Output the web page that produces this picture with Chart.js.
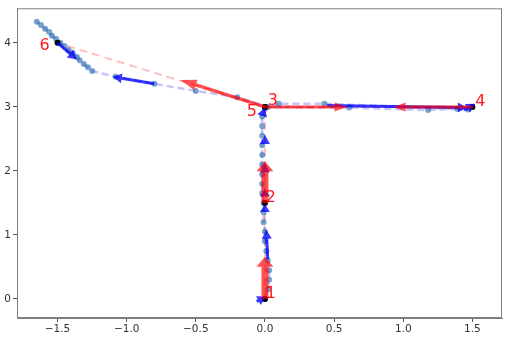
<!DOCTYPE html>
<html>
<head>
<meta charset="utf-8">
<script src="https://cdn.jsdelivr.net/npm/chart.js@4/dist/chart.umd.min.js"></script>
<style>
  html, body { margin: 0; padding: 0; background: #fff; }
  canvas { display: block; }
</style>
</head>
<body>
<canvas id="chart" width="509" height="337"></canvas>
<script>
// 航点 (waypoints)
const wpX = [0, 0, 0, 1.5, 0, -1.5];
const wpY = [0, 1.5, 3, 3, 3, 4];
const wpLabels = ['1', '2', '3', '4', '5', '6'];

// 实际轨迹 (light dashed path with dots)
const trajX = [0.00, 0.02, 0.03, 0.03, 0.02, 0.01, 0.00, 0.00, -0.01, -0.01, -0.01, -0.02, -0.02, -0.02, -0.02, -0.02, -0.02, -0.02, -0.02, -0.02, 0.00,
  0.10, 0.43, 1.47, 1.39, 1.18, 0.61, 0.02,
  -0.20, -0.50, -0.80, -1.08, -1.25,
  -1.28, -1.31, -1.34, -1.36, -1.39, -1.42, -1.45, -1.48, -1.51, -1.54, -1.56, -1.59, -1.62, -1.65];
const trajY = [0.00, 0.15, 0.30, 0.45, 0.60, 0.75, 0.90, 1.05, 1.20, 1.35, 1.50, 1.65, 1.80, 1.95, 2.10, 2.25, 2.40, 2.55, 2.70, 2.85, 2.97,
  3.05, 3.05, 2.96, 2.97, 2.95, 2.99, 3.00,
  3.15, 3.25, 3.36, 3.47, 3.56,
  3.62, 3.67, 3.73, 3.78, 3.84, 3.89, 3.95, 4.00, 4.06, 4.11, 4.17, 4.22, 4.28, 4.33];

// 估计位姿箭头 (blue quiver): start -> end
const blueX0 = [-0.06, 0.02, 0.00, 0.00, 0.00, 0.00, -0.02, 0.45, 1.44, -0.80, -1.50];
const blueY0 = [-0.04, 0.62, 1.36, 1.60, 1.98, 2.42, 2.86, 3.02, 2.95, 3.36, 4.00];
const blueX1 = [0.01, 0.01, 0.00, 0.00, 0.00, 0.00, 0.00, 1.46, 1.52, -1.10, -1.36];
const blueY1 = [0.04, 1.08, 1.48, 1.72, 2.12, 2.56, 2.99, 2.99, 3.05, 3.47, 3.74];

// 指令箭头 (red quiver): start -> end
const redX0 = [0, 0, 0, 1.5, 0];
const redY0 = [0, 1.5, 3, 3, 3];
const redX1 = [0, 0, 0.59, 0.93, -0.61];
const redY1 = [0.66, 2.15, 3, 3, 3.42];

const xTicks = [-1.5, -1.0, -0.5, 0.0, 0.5, 1.0, 1.5];
const yTicks = [0, 1, 2, 3, 4];
const xRange = [-1.793, 1.714];
const yRange = [-0.297, 4.54];

const FONT = 'DejaVu Sans';

// 箭头样式 (styles kept apart from data)
const redStyle = { color: 'rgba(255,0,0,0.68)', shaft: [7, 7, 3, 3, 3.5], headW: [17, 17, 9, 9, 11], headL: [10, 10, 12, 12, 16] };
const blueStyle = { color: 'rgba(0,0,255,0.78)', shaft: 3, headW: 10, headL: 9 };
const labelOffset = { dx: [6, 6, 8, 8, -13, -13], dy: [-5, -5, -6, -5, 5, 3] };

function drawArrow(ctx, x0, y0, x1, y1, color, sw, hw, hl) {
    const dx = x1 - x0, dy = y1 - y0;
    const len = Math.hypot(dx, dy);
    if (len === 0) return;
    const ux = dx / len, uy = dy / len;
    const nx = -uy, ny = ux;
    const L = Math.min(hl, len);
    const bx = x1 - ux * L, by = y1 - uy * L;
    ctx.beginPath();
    ctx.moveTo(x0 + nx * sw / 2, y0 + ny * sw / 2);
    ctx.lineTo(bx + nx * sw / 2, by + ny * sw / 2);
    ctx.lineTo(bx + nx * hw / 2, by + ny * hw / 2);
    ctx.lineTo(x1, y1);
    ctx.lineTo(bx - nx * hw / 2, by - ny * hw / 2);
    ctx.lineTo(bx - nx * sw / 2, by - ny * sw / 2);
    ctx.lineTo(x0 - nx * sw / 2, y0 - ny * sw / 2);
    ctx.closePath();
    ctx.fillStyle = color;
    ctx.fill();
}

const arrowPlugin = {
    id: 'arrows',
    afterDatasetDraw(chart, args) {
        if (args.index !== 2) return; // 在航点之上绘制
        const { ctx, scales: { x, y } } = chart;
        ctx.save();
        for (let i = 0; i < blueX0.length; i++) {
            drawArrow(ctx,
                x.getPixelForValue(blueX0[i]), y.getPixelForValue(blueY0[i]),
                x.getPixelForValue(blueX1[i]), y.getPixelForValue(blueY1[i]),
                blueStyle.color, blueStyle.shaft, blueStyle.headW, blueStyle.headL);
        }
        for (let i = 0; i < redX0.length; i++) {
            drawArrow(ctx,
                x.getPixelForValue(redX0[i]), y.getPixelForValue(redY0[i]),
                x.getPixelForValue(redX1[i]), y.getPixelForValue(redY1[i]),
                redStyle.color, redStyle.shaft[i], redStyle.headW[i], redStyle.headL[i]);
        }
        ctx.restore();
    },
    afterDatasetsDraw(chart) {
        const { ctx, chartArea: a, scales: { x, y } } = chart;
        ctx.save();
        // 航点编号
        ctx.font = '16px "' + FONT + '"';
        ctx.fillStyle = 'rgba(255,0,0,0.9)';
        ctx.textAlign = 'center';
        ctx.textBaseline = 'middle';
        wpLabels.forEach((t, i) => {
            ctx.fillText(t,
                x.getPixelForValue(wpX[i]) + labelOffset.dx[i],
                y.getPixelForValue(wpY[i]) + labelOffset.dy[i]);
        });
        // 边框
        ctx.strokeStyle = '#808080';
        ctx.lineWidth = 1;
        ctx.strokeRect(a.left + 0.5, a.top + 0.5, a.right - a.left - 1, a.bottom - a.top - 1);
        ctx.restore();
    }
};

const toPts = (xs, ys) => xs.map((v, i) => ({ x: v, y: ys[i] }));

new Chart(document.getElementById('chart'), {
    type: 'scatter',
    data: {
        datasets: [
            {
                // 航点连线
                data: toPts(wpX, wpY),
                showLine: true,
                borderColor: 'rgba(255,0,0,0.25)',
                borderWidth: 2,
                borderDash: [8, 5],
                pointRadius: 0,
                order: 3
            },
            {
                // 实际轨迹
                data: toPts(trajX, trajY),
                showLine: true,
                borderColor: 'rgba(60,60,240,0.3)',
                borderWidth: 2.5,
                borderDash: [7, 4],
                pointRadius: 3,
                pointBorderWidth: 0,
                pointBackgroundColor: 'rgba(31,100,170,0.6)',
                order: 2
            },
            {
                // 航点
                data: toPts(wpX, wpY),
                showLine: false,
                pointRadius: 3,
                pointBorderWidth: 0,
                pointBackgroundColor: '#000',
                order: 1
            }
        ]
    },
    options: {
        responsive: false,
        animation: false,
        layout: { padding: { top: 2, right: 7, left: 0, bottom: 0 } },
        plugins: {
            legend: { display: false },
            tooltip: { enabled: false }
        },
        scales: {
            x: {
                type: 'linear',
                min: xRange[0],
                max: xRange[1],
                afterBuildTicks: (s) => { s.ticks = xTicks.map(v => ({ value: v })); },
                afterFit: (s) => { s.height = 19; },
                ticks: {
                    autoSkip: false,
                    maxRotation: 0,
                    padding: 1,
                    color: '#333',
                    font: { family: FONT, size: 10.5 },
                    callback: (v) => v.toFixed(1).replace('-', '\u2212')
                },
                grid: { drawOnChartArea: false, drawTicks: true, tickLength: 4, color: '#555' },
                border: { display: true, color: '#808080' }
            },
            y: {
                type: 'linear',
                min: yRange[0],
                max: yRange[1],
                afterBuildTicks: (s) => { s.ticks = yTicks.map(v => ({ value: v })); },
                afterFit: (s) => { s.width = 17; },
                ticks: {
                    padding: 2,
                    color: '#333',
                    font: { family: FONT, size: 10.5 },
                    callback: (v) => String(v)
                },
                grid: { drawOnChartArea: false, drawTicks: true, tickLength: 4, color: '#555' },
                border: { display: true, color: '#808080' }
            }
        }
    },
    plugins: [arrowPlugin]
});
</script>
</body>
</html>
